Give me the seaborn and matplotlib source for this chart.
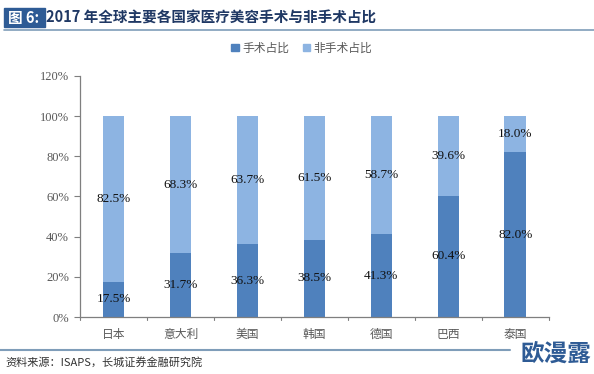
import matplotlib
matplotlib.use("Agg")
import matplotlib.pyplot as plt
import matplotlib.patches as mpatches
import seaborn as sns
import pandas as pd

countries = ["日本", "意大利", "美国", "韩国", "德国", "巴西", "泰国"]
surgical = [17.5, 31.7, 36.3, 38.5, 41.3, 60.4, 82.0]
non_surgical = [82.5, 68.3, 63.7, 61.5, 58.7, 39.6, 18.0]
yticks = [0, 20, 40, 60, 80, 100, 120]

dark_blue = "#4F81BD"
light_blue = "#8DB4E2"
gray = "#595959"

sns.set_theme(style="white")
plt.rcParams['font.family'] = ['Noto Sans CJK SC', 'DejaVu Sans']

df = pd.DataFrame({"country": countries, "surgical": surgical,
                   "non_surgical": non_surgical})
df["total"] = df["surgical"] + df["non_surgical"]

fig = plt.figure(figsize=(5.94, 3.74), dpi=100)
ax = fig.add_axes([0.1347, 0.1524, 0.789, 0.6444])

# light bar = full stack, dark bar drawn on top
sns.barplot(data=df, x="country", y="total", color=light_blue, width=0.32,
            saturation=1, linewidth=0, ax=ax)
sns.barplot(data=df, x="country", y="surgical", color=dark_blue, width=0.32,
            saturation=1, linewidth=0, ax=ax)

for i, (s, n) in enumerate(zip(surgical, non_surgical)):
    ax.text(i, s / 2, "{:.1f}%".format(s), ha="center", va="center",
            fontsize=9.5, family="Liberation Serif", color="#111111")
    ax.text(i, s + n / 2, "{:.1f}%".format(n), ha="center", va="center",
            fontsize=9.5, family="Liberation Serif", color="#111111")

ax.set_ylim(0, 120)
ax.set_xlim(-0.5, len(countries) - 0.5)
ax.set_yticks(yticks)
ax.set_yticklabels(["{}%".format(v) for v in yticks], family="Liberation Serif",
                   fontsize=9, color=gray)
ax.set_xticks(range(len(countries)))
ax.set_xticklabels(countries, fontsize=8.5, color=gray)
ax.set_xlabel("")
ax.set_ylabel("")

for side in ["top", "right"]:
    ax.spines[side].set_visible(False)
for side in ["left", "bottom"]:
    ax.spines[side].set_color("#7F7F7F")
    ax.spines[side].set_linewidth(0.9)

# boundary ticks on x axis, ticks on y axis
ax.tick_params(axis="x", length=0, pad=8)
ax.tick_params(axis="y", length=4, width=0.8, color="#7F7F7F", direction="out", left=True, pad=4)
for b in [i - 0.5 for i in range(len(countries) + 1)]:
    ax.plot([b, b], [0, -1.6], color="#7F7F7F", lw=0.8, clip_on=False)

# header
fig.patches.append(mpatches.Rectangle((4 / 594, 1 - 27 / 374), 41 / 594, 19 / 374,
                                      transform=fig.transFigure, color="#2E5B95"))
fig.text(24 / 594, 1 - 17.5 / 374, "图 6:", color="white", fontsize=10.5,
         fontweight="bold", ha="center", va="center")
fig.text(46 / 594, 1 - 17.5 / 374, "2017 年全球主要各国家医疗美容手术与非手术占比",
         color="#1F3864", fontsize=10.5, fontweight="bold", ha="left", va="center")
fig.lines.append(plt.Line2D([4 / 594, 1.0], [1 - 29.5 / 374] * 2,
                            transform=fig.transFigure, color="#7F9DB9", lw=1.2))

# legend
handles = [mpatches.Patch(color=dark_blue, label="手术占比"),
           mpatches.Patch(color=light_blue, label="非手术占比")]
fig.legend(handles=handles, loc="center", bbox_to_anchor=(302 / 594, 1 - 48 / 374),
           ncol=2, frameon=False, fontsize=8.5, handlelength=0.6, handleheight=0.6,
           handletextpad=0.3, columnspacing=1.2, labelcolor=gray)

# footer
fig.lines.append(plt.Line2D([0, 510 / 594], [1 - 350 / 374] * 2,
                            transform=fig.transFigure, color="#7F9DB9", lw=1.5))
fig.text(5 / 594, 1 - 362 / 374, "资料来源：ISAPS，长城证券金融研究院", fontsize=8,
         style="italic", color="#333333", ha="left", va="center")
fig.text(556 / 594, 1 - 354 / 374, "欧漫露", fontsize=17, fontweight="bold",
         color="#2E5B95", ha="center", va="center")

fig.savefig("out.png", dpi=100)
